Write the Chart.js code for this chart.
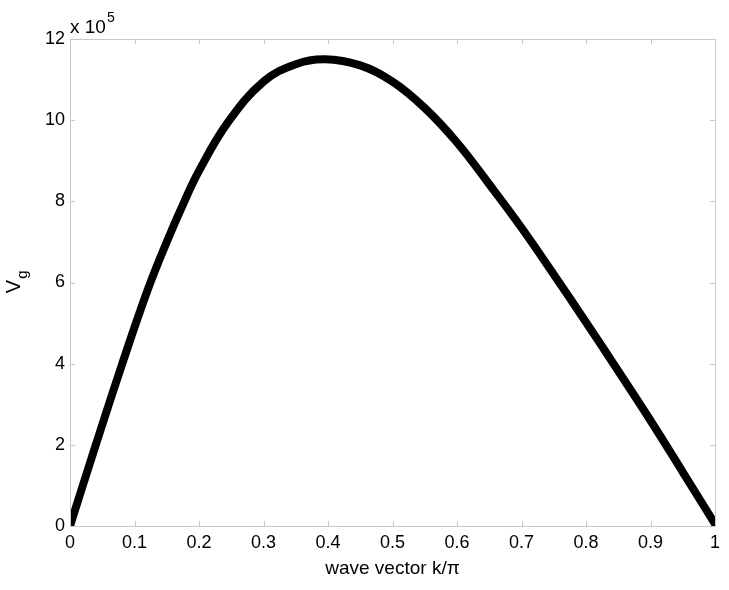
<!DOCTYPE html>
<html>
<head>
<meta charset="utf-8">
<script src="https://cdn.jsdelivr.net/npm/chart.js@4.4.1/dist/chart.umd.min.js"></script>
<style>
html,body{margin:0;padding:0;background:#fff;}
#wrap{width:729px;height:590px;position:relative;}
</style>
</head>
<body>
<div id="wrap"><canvas id="c" width="729" height="590"></canvas></div>
<script>
// wave vector k/pi
const kValues = [0, 0.04, 0.08, 0.12, 0.15, 0.176, 0.20, 0.245, 0.30, 0.35, 0.395, 0.45, 0.50, 0.55, 0.60, 0.65, 0.70, 0.75, 0.80, 0.85, 0.90, 0.95, 1.0];
// group velocity Vg (x 10^5)
const vgValues = [0, 2.0, 3.95, 5.8, 7.0, 7.95, 8.75, 9.95, 10.95, 11.38, 11.5, 11.35, 10.95, 10.3, 9.45, 8.42, 7.35, 6.2, 5.02, 3.82, 2.6, 1.33, 0.05];
const xTicks = [0, 0.1, 0.2, 0.3, 0.4, 0.5, 0.6, 0.7, 0.8, 0.9, 1];
const yTicks = [0, 2, 4, 6, 8, 10, 12];
const xLabel = 'wave vector k/\u03C0';
const yLabelMain = 'V';
const yLabelSub = 'g';
const multiplierBase = 'x 10';
const multiplierExp = '5';

const FONT = 'Liberation Sans, Arial, sans-serif';
const GREY = '#c8c8c8';

const frame = {
  id: 'frame',
  afterDatasetsDraw(chart) {
    const ctx = chart.ctx, a = chart.chartArea;
    const xs = chart.scales.x, ys = chart.scales.y;
    ctx.save();
    ctx.strokeStyle = GREY;
    ctx.lineWidth = 1;
    ctx.strokeRect(Math.round(a.left) + 0.5, Math.round(a.top) + 0.5, Math.round(a.right - a.left), Math.round(a.bottom - a.top));
    ctx.beginPath();
    xTicks.forEach(v => {
      const px = Math.round(xs.getPixelForValue(v)) + 0.5;
      ctx.moveTo(px, a.bottom); ctx.lineTo(px, a.bottom - 5);
      ctx.moveTo(px, a.top); ctx.lineTo(px, a.top + 5);
    });
    yTicks.forEach(v => {
      const py = Math.round(ys.getPixelForValue(v)) + 0.5;
      ctx.moveTo(a.left, py); ctx.lineTo(a.left + 5, py);
      ctx.moveTo(a.right, py); ctx.lineTo(a.right - 5, py);
    });
    ctx.stroke();
    ctx.restore();
  },
  afterDraw(chart) {
    const ctx = chart.ctx, a = chart.chartArea;
    ctx.save();
    ctx.fillStyle = '#000';
    // multiplier
    ctx.font = '19px ' + FONT;
    ctx.textBaseline = 'alphabetic';
    ctx.textAlign = 'left';
    ctx.fillText(multiplierBase, a.left, a.top - 6);
    const w = ctx.measureText(multiplierBase).width;
    ctx.font = '14px ' + FONT;
    ctx.fillText(multiplierExp, a.left + w + 1, a.top - 17);
    // y label
    ctx.translate(20, (a.top + a.bottom) / 2 + 4);
    ctx.rotate(-Math.PI / 2);
    ctx.font = '20px ' + FONT;
    ctx.textAlign = 'center';
    ctx.fillText(yLabelMain, 0, 0);
    const vw = ctx.measureText(yLabelMain).width;
    ctx.font = '15px ' + FONT;
    ctx.textAlign = 'left';
    ctx.fillText(yLabelSub, vw / 2 + 1, 7);
    ctx.restore();
  }
};

new Chart(document.getElementById('c'), {
  type: 'line',
  data: {
    datasets: [{
      data: kValues.map((k, i) => ({x: k, y: vgValues[i]})),
      borderColor: '#000',
      backgroundColor: '#000',
      borderWidth: 8,
      borderCapStyle: 'round',
      borderJoinStyle: 'round',
      pointRadius: 0,
      tension: 0.4,
      fill: false
    }]
  },
  options: {
    responsive: false,
    animation: false,
    layout: {padding: {top: 39, right: 14, left: 0, bottom: 0}},
    plugins: {legend: {display: false}, tooltip: {enabled: false}},
    scales: {
      x: {
        type: 'linear', min: 0, max: 1,
        afterFit(s) { s.height = 64; },
        afterBuildTicks(s) { s.ticks = xTicks.map(v => ({value: v})); },
        grid: {display: false, drawTicks: false},
        border: {display: false},
        ticks: {
          color: '#000', font: {size: 18, family: FONT}, padding: 6, maxRotation: 0,
          callback: v => String(v)
        },
        title: {display: true, text: xLabel, color: '#000', font: {size: 19, family: FONT}, padding: {top: 0, bottom: 10}}
      },
      y: {
        type: 'linear', min: 0, max: 12,
        afterFit(s) { s.width = 70; },
        afterBuildTicks(s) { s.ticks = yTicks.map(v => ({value: v})); },
        grid: {display: false, drawTicks: false},
        border: {display: false},
        ticks: {color: '#000', font: {size: 18, family: FONT}, padding: 5, callback: v => String(v)}
      }
    }
  },
  plugins: [frame]
});
</script>
</body>
</html>
